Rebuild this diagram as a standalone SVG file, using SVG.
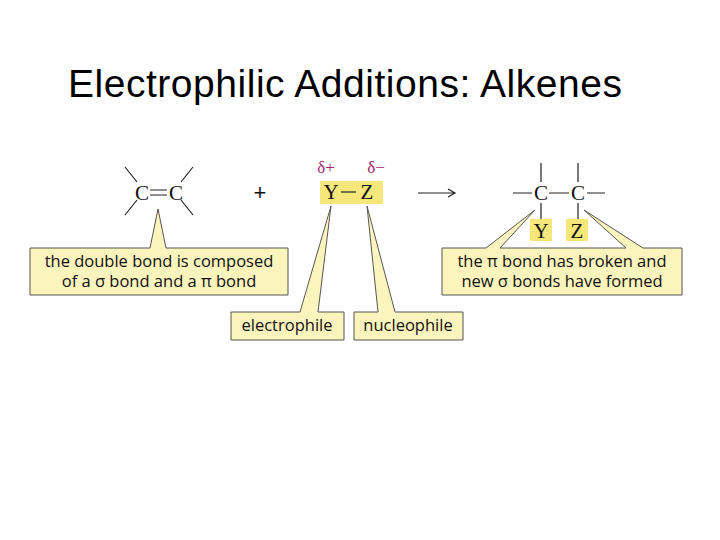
<svg xmlns="http://www.w3.org/2000/svg" width="720" height="540" viewBox="0 0 720 540">
<style>
.t{font-family:"Liberation Sans",Arial,sans-serif;font-size:39px;fill:#000}
.c{font-family:"Liberation Serif","Times New Roman",serif;font-size:21px;fill:#111;text-anchor:middle}
.d{font-family:"Liberation Serif",serif;font-size:17px;fill:#a3246e;text-anchor:middle}
.l{font-family:"Open Sans","DejaVu Sans",sans-serif;font-size:16.5px;fill:#111;text-anchor:middle}
.box{fill:#fcf4bd;stroke:#555;stroke-width:1}
.hl{fill:#f6e77a}
.b{stroke:#222;stroke-width:1.2;fill:none}
</style>
<rect width="720" height="540" fill="#fff"/>
<text class="t" x="68" y="97" textLength="554">Electrophilic Additions: Alkenes</text>
<g id="connectors">
<path class="b" d="M125,167L137,182M125,215L137,200M193,167L181,182M193,215L181,200M150,190H167M150,195H167"/>
<path class="b" d="M418,193H454M448,189L455,193L448,197"/>
<path class="b" d="M541,163V182M578,163V182M513,193H532M549,193H569M587,193H605M541,203V220M578,203V220"/>
</g>
<g id="alkene">
<text class="c" x="142" y="200">C</text>
<text class="c" x="176" y="200">C</text>
</g>
<text x="260" y="200" style="font-family:'Liberation Sans',sans-serif;font-size:22px;fill:#111;text-anchor:middle">+</text>
<g id="reagent">
<rect class="hl" x="320" y="181" width="63" height="23"/>
<path class="b" d="M341,192H356"/>
<text class="d" x="326" y="173">δ+</text>
<text class="d" x="376" y="173">δ−</text>
<text class="c" x="331" y="199">Y</text>
<text class="c" x="367" y="199">Z</text>
</g>
<g id="product">
<rect class="hl" x="530" y="219" width="22" height="22"/>
<rect class="hl" x="566" y="219" width="22" height="22"/>
<text class="c" x="541" y="200">C</text>
<text class="c" x="578" y="200">C</text>
<text class="c" x="541" y="238">Y</text>
<text class="c" x="577" y="238">Z</text>
</g>
<g id="box-double">
<path class="box" d="M30,248H150L158,209L166,248H288V295H30Z"/>
<text class="l" x="159" y="267">the double bond is composed</text>
<text class="l" x="159" y="287">of a σ bond and a π bond</text>
</g>
<g id="box-electrophile">
<path class="box" d="M231,312H300L331,206L318,312H344V340H231Z"/>
<text class="l" x="287" y="331">electrophile</text>
</g>
<g id="box-nucleophile">
<path class="box" d="M354,312H378L367,206L395,312H463V340H354Z"/>
<text class="l" x="408" y="331">nucleophile</text>
</g>
<g id="box-product">
<path class="box" d="M442,248H486L535,210L500,248H626L584,210L643,248H682V295H442Z"/>
<text class="l" x="562" y="267">the π bond has broken and</text>
<text class="l" x="562" y="287">new σ bonds have formed</text>
</g>
</svg>
